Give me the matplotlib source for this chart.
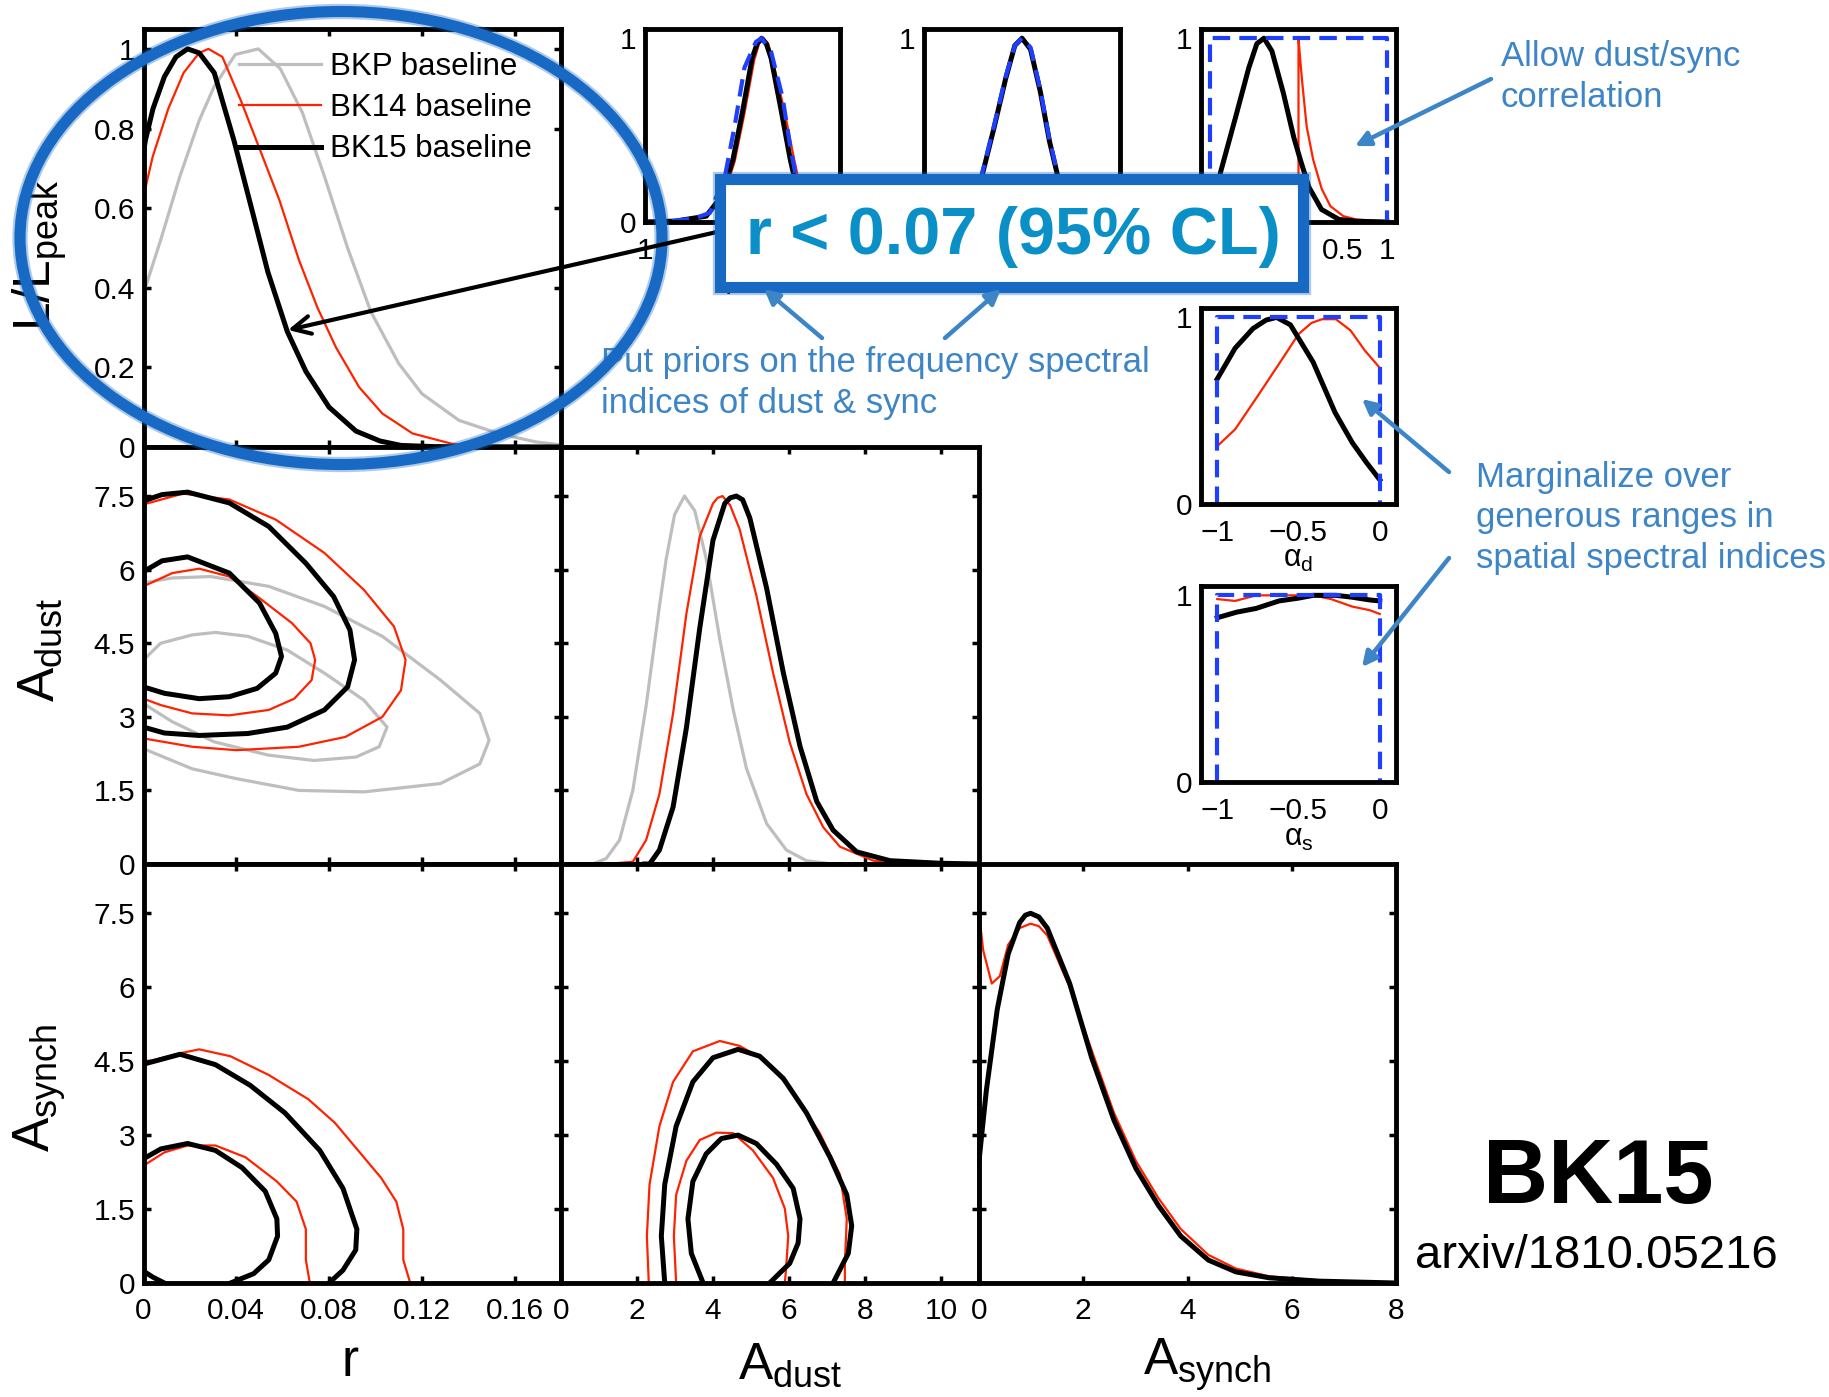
import matplotlib
matplotlib.use('Agg')
import matplotlib.pyplot as plt
from matplotlib.patches import Ellipse, Rectangle

# ---- 1D posteriors ----
r_bkp_x = [0, 0.0074, 0.0157, 0.024, 0.0305, 0.0396, 0.0495, 0.059, 0.0685, 0.078, 0.088, 0.098, 0.11, 0.12, 0.136, 0.153, 0.169, 0.18]
r_bkp_y = [0.386, 0.52, 0.68, 0.82, 0.906, 0.986, 1.0, 0.95, 0.84, 0.68, 0.50, 0.34, 0.21, 0.134, 0.067, 0.034, 0.013, 0.005]
r_bk14_x = [0, 0.004, 0.0107, 0.0173, 0.024, 0.028, 0.034, 0.042, 0.050, 0.0586, 0.067, 0.075, 0.083, 0.093, 0.103, 0.116, 0.133, 0.145, 0.18]
r_bk14_y = [0.63, 0.73, 0.85, 0.94, 0.99, 1.0, 0.98, 0.87, 0.75, 0.62, 0.47, 0.35, 0.25, 0.15, 0.084, 0.034, 0.008, 0.002, 0.0]
r_bk15_x = [0, 0.0008, 0.0041, 0.009, 0.014, 0.019, 0.024, 0.0305, 0.039, 0.047, 0.0536, 0.062, 0.070, 0.080, 0.0916, 0.102, 0.111, 0.125, 0.18]
r_bk15_y = [0.74, 0.77, 0.85, 0.93, 0.98, 1.0, 0.99, 0.94, 0.77, 0.59, 0.44, 0.29, 0.19, 0.10, 0.04, 0.015, 0.004, 0.001, 0.0]

ad_bkp_x = [0.0, 0.835, 1.19, 1.54, 1.89, 2.24, 2.59, 2.77, 2.99, 3.25, 3.52, 3.82, 4.18, 4.53, 4.88, 5.41, 5.93, 6.46, 6.99]
ad_bkp_y = [0, 0, 0.015, 0.065, 0.2, 0.43, 0.70, 0.83, 0.95, 1.0, 0.96, 0.83, 0.61, 0.42, 0.26, 0.11, 0.038, 0.009, 0.002]
ad_bk14_x = [1.2, 1.89, 2.24, 2.59, 2.95, 3.30, 3.65, 4.0, 4.12, 4.25, 4.45, 4.70, 5.14, 5.58, 6.02, 6.46, 6.90, 7.34, 8.22, 9.5]
ad_bk14_y = [0, 0.006, 0.065, 0.19, 0.41, 0.68, 0.89, 0.98, 0.995, 1.0, 0.975, 0.91, 0.73, 0.52, 0.33, 0.19, 0.10, 0.047, 0.009, 0.001]
ad_bk15_x = [2.2, 2.33, 2.59, 2.95, 3.30, 3.65, 4.0, 4.31, 4.45, 4.615, 4.78, 4.97, 5.41, 5.85, 6.29, 6.73, 7.16, 7.78, 8.66, 9.98, 11]
ad_bk15_y = [0, 0.0, 0.038, 0.155, 0.37, 0.64, 0.88, 0.98, 0.995, 1.0, 0.99, 0.94, 0.75, 0.52, 0.32, 0.17, 0.092, 0.033, 0.009, 0.002, 0.0]

as_bk14_x = [0, 0.08, 0.245, 0.40, 0.56, 0.78, 0.99, 1.15, 1.31, 1.74, 2.16, 2.59, 3.01, 3.44, 3.87, 4.40, 4.93, 5.57, 6.53, 8.0]
as_bk14_y = [1.0, 0.9, 0.81, 0.83, 0.915, 0.96, 0.972, 0.965, 0.94, 0.80, 0.63, 0.46, 0.33, 0.23, 0.146, 0.076, 0.039, 0.018, 0.007, 0.0]
as_bk15_x = [0, 0.14, 0.35, 0.56, 0.78, 0.89, 0.99, 1.15, 1.31, 1.74, 2.16, 2.59, 3.01, 3.44, 3.87, 4.40, 4.93, 5.57, 6.53, 8.0]
as_bk15_y = [0.33, 0.52, 0.74, 0.89, 0.975, 0.995, 1.0, 0.99, 0.96, 0.81, 0.61, 0.44, 0.31, 0.21, 0.127, 0.062, 0.030, 0.014, 0.005, 0.0]

# ---- 2D contours (68% / 95%) ----
rd_bkp68_x = [0, 0.0074, 0.021, 0.031, 0.045, 0.062, 0.078, 0.095, 0.105, 0.1016, 0.0916, 0.0735, 0.0537, 0.0305, 0.0124, 0]
rd_bkp68_y = [4.16, 4.5, 4.67, 4.72, 4.64, 4.36, 3.89, 3.34, 2.79, 2.39, 2.18, 2.11, 2.22, 2.49, 2.90, 3.27]
rd_bkp95_x = [0, 0.0124, 0.029, 0.054, 0.078, 0.103, 0.128, 0.145, 0.149, 0.145, 0.128, 0.095, 0.067, 0.040, 0.021, 0]
rd_bkp95_y = [5.73, 5.83, 5.86, 5.66, 5.25, 4.64, 3.75, 3.07, 2.52, 2.04, 1.64, 1.47, 1.50, 1.74, 1.94, 2.35]
rd_bk14_68_x = [0, 0.0124, 0.024, 0.037, 0.050, 0.064, 0.072, 0.074, 0.0725, 0.065, 0.054, 0.037, 0.021, 0.0074, 0]
rd_bk14_68_y = [5.66, 5.93, 6.02, 5.86, 5.42, 4.91, 4.50, 4.16, 3.75, 3.37, 3.14, 3.03, 3.07, 3.24, 3.37]
rd_bk14_95_x = [0, 0.017, 0.037, 0.057, 0.078, 0.095, 0.108, 0.113, 0.111, 0.103, 0.087, 0.067, 0.040, 0.021, 0]
rd_bk14_95_y = [7.33, 7.55, 7.43, 7.02, 6.34, 5.59, 4.84, 4.16, 3.54, 3.0, 2.59, 2.39, 2.32, 2.39, 2.56]
rd_bk15_68_x = [0, 0.008, 0.019, 0.037, 0.050, 0.057, 0.0595, 0.057, 0.049, 0.037, 0.024, 0.009, 0]
rd_bk15_68_y = [5.96, 6.18, 6.26, 5.93, 5.32, 4.70, 4.23, 3.89, 3.58, 3.41, 3.37, 3.48, 3.61]
rd_bk15_95_x = [0, 0.008, 0.019, 0.037, 0.054, 0.070, 0.082, 0.089, 0.091, 0.088, 0.078, 0.062, 0.045, 0.024, 0.009, 0]
rd_bk15_95_y = [7.40, 7.53, 7.58, 7.36, 6.88, 6.13, 5.45, 4.77, 4.16, 3.61, 3.14, 2.79, 2.66, 2.62, 2.67, 2.79]

rs_bk14_68_x = [0, 0.009, 0.019, 0.031, 0.044, 0.0575, 0.066, 0.070, 0.070, 0.0717]
rs_bk14_68_y = [2.38, 2.65, 2.79, 2.79, 2.55, 2.06, 1.65, 1.09, 0.47, 0]
rs_bk14_95_x = [0, 0.0158, 0.024, 0.0375, 0.054, 0.071, 0.0825, 0.0925, 0.1025, 0.109, 0.112, 0.112, 0.115]
rs_bk14_95_y = [4.47, 4.66, 4.74, 4.60, 4.22, 3.73, 3.25, 2.69, 2.13, 1.65, 1.09, 0.47, 0]
rs_bk15_68_x = [0, 0.0075, 0.019, 0.031, 0.0425, 0.0525, 0.0575, 0.0578, 0.054, 0.0475, 0.0375]
rs_bk15_68_y = [2.52, 2.72, 2.83, 2.69, 2.34, 1.86, 1.30, 0.95, 0.47, 0.19, 0]
rs_bk15_68c_x = [0, 0.004, 0.009]
rs_bk15_68c_y = [0.24, 0.12, 0]
rs_bk15_95_x = [0, 0.0158, 0.031, 0.046, 0.061, 0.076, 0.086, 0.092, 0.0915, 0.086, 0.080]
rs_bk15_95_y = [4.44, 4.64, 4.43, 4.01, 3.45, 2.69, 1.92, 1.09, 0.67, 0.26, 0]

ds_bk14_68_x = [3.03, 2.97, 3.03, 3.30, 3.65, 4.09, 4.53, 5.05, 5.58, 5.89, 5.98, 5.92, 5.89]
ds_bk14_68_y = [0, 0.95, 1.79, 2.48, 2.90, 3.05, 3.04, 2.69, 2.13, 1.51, 0.95, 0.26, 0]
ds_bk14_95_x = [2.31, 2.26, 2.33, 2.59, 2.95, 3.47, 4.18, 4.70, 5.41, 6.11, 6.81, 7.34, 7.52, 7.47, 7.47]
ds_bk14_95_y = [0, 0.95, 2.0, 3.18, 4.08, 4.70, 4.91, 4.81, 4.50, 3.87, 3.04, 2.20, 1.30, 0.40, 0]
ds_bk15_68_x = [3.74, 3.43, 3.34, 3.47, 3.82, 4.22, 4.66, 5.14, 5.67, 6.11, 6.29, 6.24, 6.02, 5.49]
ds_bk15_68_y = [0, 0.60, 1.30, 2.06, 2.62, 2.93, 3.0, 2.83, 2.41, 1.92, 1.30, 0.81, 0.40, 0]
ds_bk15_95_x = [2.73, 2.64, 2.73, 3.03, 3.47, 4.0, 4.66, 5.23, 5.85, 6.46, 7.08, 7.52, 7.65, 7.56, 7.16]
ds_bk15_95_y = [0, 0.95, 2.0, 3.18, 4.08, 4.57, 4.74, 4.60, 4.15, 3.45, 2.55, 1.79, 1.16, 0.60, 0]

# ---- small panels ----
bd_bk15_x = [1.0, 1.157, 1.314, 1.392, 1.451, 1.5, 1.549, 1.575, 1.598, 1.622, 1.647, 1.696, 1.745, 1.784, 1.833, 1.90, 2.0]
bd_bk15_y = [0, 0.005, 0.032, 0.14, 0.34, 0.60, 0.89, 0.97, 1.0, 0.97, 0.89, 0.62, 0.34, 0.157, 0.05, 0.01, 0]
bd_bk14_x = [1.0, 1.157, 1.314, 1.40, 1.46, 1.51, 1.56, 1.585, 1.608, 1.632, 1.657, 1.716, 1.765, 1.80, 1.85, 1.91, 2.0]
bd_bk14_y = [0, 0.004, 0.03, 0.13, 0.33, 0.59, 0.88, 0.97, 1.0, 0.97, 0.87, 0.60, 0.34, 0.17, 0.06, 0.012, 0]
bd_prior_x = [1.0, 1.137, 1.255, 1.333, 1.412, 1.461, 1.51, 1.569, 1.598, 1.647, 1.706, 1.745, 1.784, 1.84, 1.9, 2.0]
bd_prior_y = [0, 0.005, 0.02, 0.05, 0.26, 0.53, 0.84, 0.98, 1.0, 0.925, 0.675, 0.41, 0.19, 0.06, 0.015, 0.001]

bs_x = [-4.6, -4.0, -3.706, -3.53, -3.35, -3.21, -3.1, -2.97, -2.82, -2.68, -2.56, -2.38, -2.18, -1.6]
bs_bk15_y = [0, 0.014, 0.26, 0.51, 0.78, 0.96, 1.0, 0.94, 0.71, 0.44, 0.26, 0.086, 0.014, 0]
bs_bk14_y = [0, 0.013, 0.25, 0.50, 0.78, 0.96, 1.0, 0.94, 0.72, 0.45, 0.26, 0.085, 0.014, 0]
bs_prior_y = [0, 0.016, 0.27, 0.52, 0.79, 0.96, 1.0, 0.95, 0.72, 0.45, 0.27, 0.09, 0.016, 0]

eps_bk15_x = [-1.0, -0.95, -0.88, -0.71, -0.56, -0.47, -0.39, -0.30, -0.17, -0.053, 0.02, 0.117, 0.26, 0.456, 0.65, 1.0]
eps_bk15_y = [0.01, 0.05, 0.27, 0.57, 0.84, 0.97, 1.0, 0.93, 0.70, 0.46, 0.34, 0.19, 0.068, 0.014, 0.004, 0]
eps_bk14_x = [0, 0, 0.02, 0.044, 0.092, 0.165, 0.262, 0.36, 0.505, 0.65, 0.94]
eps_bk14_y = [0, 1.0, 0.88, 0.75, 0.52, 0.34, 0.18, 0.086, 0.032, 0.014, 0.004]
eps_prior_x = [-1, -1, 1, 1]
eps_prior_y = [0, 1, 1, 0]

alpd_bk15_x = [-1.0, -0.89, -0.78, -0.70, -0.635, -0.55, -0.41, -0.275, -0.17, -0.08, 0.0]
alpd_bk15_y = [0.67, 0.835, 0.94, 0.985, 1.0, 0.96, 0.76, 0.49, 0.33, 0.22, 0.13]
alpd_bk14_x = [-1.0, -0.89, -0.75, -0.59, -0.5, -0.42, -0.355, -0.27, -0.18, -0.09, 0.0]
alpd_bk14_y = [0.31, 0.40, 0.58, 0.79, 0.91, 0.97, 0.99, 0.99, 0.93, 0.82, 0.73]
alps_bk15_x = [-1.0, -0.88, -0.76, -0.62, -0.5, -0.41, -0.27, -0.17, -0.06, 0.0]
alps_bk15_y = [0.88, 0.91, 0.93, 0.97, 0.985, 1.0, 1.0, 0.99, 0.975, 0.97]
alps_bk14_x = [-1.0, -0.89, -0.76, -0.62, -0.41, -0.30, -0.17, -0.06, 0.0]
alps_bk14_y = [0.98, 0.97, 1.0, 1.0, 1.0, 0.98, 0.94, 0.92, 0.90]
alp_prior_x = [-1, -1, 0, 0]
alp_prior_y = [0, 1, 1, 0]

legend_labels = ['BKP baseline', 'BK14 baseline', 'BK15 baseline']

plt.rcParams['font.family'] = ['Liberation Sans', 'DejaVu Sans']
plt.rcParams['mathtext.fontset'] = 'custom'
plt.rcParams['mathtext.rm'] = 'Liberation Sans'
plt.rcParams['mathtext.it'] = 'Liberation Sans:italic'
plt.rcParams['mathtext.bf'] = 'Liberation Sans:bold'

GRAY, RED, BLK, BLUE = '#bebebe', '#ff2200', 'black', '#1f3fff'
LW15, LW14, LWP = 3.6, 1.6, 2.3
ANN = '#3d85c6'
W, H = 1829, 1397
fig = plt.figure(figsize=(W / 100, H / 100), dpi=100)


def box_ax(x0, y0, x1, y1):
    return fig.add_axes([x0 / W, 1 - y1 / H, (x1 - x0) / W, (y1 - y0) / H])


def style(ax, small=False):
    for s in ax.spines.values():
        s.set_linewidth(3.5)
    if small:
        ax.tick_params(length=0, labelsize=21.5, pad=6)
        ax.tick_params(axis='x', pad=11)
    else:
        ax.tick_params(direction='in', length=5, width=2.5, top=True, right=True,
                       labelsize=21.5, pad=6)
        ax.tick_params(axis='x', pad=10)


xs = [143.5, 561, 979, 1396]
ys = [29, 447, 864, 1283]
r_ticks = [0, 0.04, 0.08, 0.12, 0.16]
r_lbl = ['0', '0.04', '0.08', '0.12', '0.16']
a_ticks = [0, 1.5, 3, 4.5, 6, 7.5]
a_lbl = ['0', '1.5', '3', '4.5', '6', '7.5']
n_ticks = [0, 0.2, 0.4, 0.6, 0.8, 1.0]

# r 1D
ax = box_ax(xs[0], ys[0], xs[1], ys[1])
ax.plot(r_bkp_x, r_bkp_y, color=GRAY, lw=LWP, label=legend_labels[0])
ax.plot(r_bk14_x, r_bk14_y, color=RED, lw=LW14, label=legend_labels[1])
ax.plot(r_bk15_x, r_bk15_y, color=BLK, lw=LW15, label=legend_labels[2])
ax.set_xlim(0, 0.18)
ax.set_ylim(0, 1.05)
ax.set_xticks(r_ticks)
ax.set_xticklabels([])
ax.set_yticks(n_ticks)
ax.set_yticklabels(['0', '0.2', '0.4', '0.6', '0.8', '1'])
style(ax)
ax.legend(loc='upper left', bbox_to_anchor=(0.229, 0.945), frameon=False, fontsize=22.5,
          handlelength=2.62, handletextpad=0.3, labelspacing=0.36, borderpad=0, borderaxespad=0)

# r - Adust
ax = box_ax(xs[0], ys[1], xs[1], ys[2])
ax.plot(rd_bkp68_x, rd_bkp68_y, color=GRAY, lw=LWP)
ax.plot(rd_bkp95_x, rd_bkp95_y, color=GRAY, lw=LWP)
ax.plot(rd_bk14_68_x, rd_bk14_68_y, color=RED, lw=LW14)
ax.plot(rd_bk14_95_x, rd_bk14_95_y, color=RED, lw=LW14)
ax.plot(rd_bk15_68_x, rd_bk15_68_y, color=BLK, lw=LW15)
ax.plot(rd_bk15_95_x, rd_bk15_95_y, color=BLK, lw=LW15)
ax.set_xlim(0, 0.18)
ax.set_ylim(0, 8.5)
ax.set_xticks(r_ticks)
ax.set_xticklabels([])
ax.set_yticks(a_ticks)
ax.set_yticklabels(a_lbl)
style(ax)

# Adust 1D
ax = box_ax(xs[1], ys[1], xs[2], ys[2])
ax.plot(ad_bkp_x, ad_bkp_y, color=GRAY, lw=LWP)
ax.plot(ad_bk14_x, ad_bk14_y, color=RED, lw=LW14)
ax.plot(ad_bk15_x, ad_bk15_y, color=BLK, lw=LW15)
ax.set_xlim(0, 11)
ax.set_ylim(0, 8.5 / 7.5)
ax.set_xticks([0, 2, 4, 6, 8, 10])
ax.set_xticklabels([])
ax.set_yticks(n_ticks)
ax.set_yticklabels([])
style(ax)

# r - Async
ax = box_ax(xs[0], ys[2], xs[1], ys[3])
ax.plot(rs_bk14_68_x, rs_bk14_68_y, color=RED, lw=LW14)
ax.plot(rs_bk14_95_x, rs_bk14_95_y, color=RED, lw=LW14)
ax.plot(rs_bk15_68_x, rs_bk15_68_y, color=BLK, lw=LW15)
ax.plot(rs_bk15_68c_x, rs_bk15_68c_y, color=BLK, lw=LW15)
ax.plot(rs_bk15_95_x, rs_bk15_95_y, color=BLK, lw=LW15)
ax.set_xlim(0, 0.18)
ax.set_ylim(0, 8.5)
ax.set_xticks(r_ticks)
ax.set_xticklabels(r_lbl)
ax.set_yticks(a_ticks)
ax.set_yticklabels(a_lbl)
style(ax)

# Adust - Async
ax = box_ax(xs[1], ys[2], xs[2], ys[3])
ax.plot(ds_bk14_68_x, ds_bk14_68_y, color=RED, lw=LW14)
ax.plot(ds_bk14_95_x, ds_bk14_95_y, color=RED, lw=LW14)
ax.plot(ds_bk15_68_x, ds_bk15_68_y, color=BLK, lw=LW15)
ax.plot(ds_bk15_95_x, ds_bk15_95_y, color=BLK, lw=LW15)
ax.set_xlim(0, 11)
ax.set_ylim(0, 8.5)
ax.set_xticks([0, 2, 4, 6, 8, 10])
ax.set_xticklabels(['0', '2', '4', '6', '8', '10'])
ax.set_yticks(a_ticks)
ax.set_yticklabels([])
style(ax)

# Async 1D
ax = box_ax(xs[2], ys[2], xs[3], ys[3])
ax.plot(as_bk14_x, as_bk14_y, color=RED, lw=LW14)
ax.plot(as_bk15_x, as_bk15_y, color=BLK, lw=LW15)
ax.set_xlim(0, 8)
ax.set_ylim(0, 8.5 / 7.5)
ax.set_xticks([0, 2, 4, 6, 8])
ax.set_xticklabels(['0', '2', '4', '6', '8'])
ax.set_yticks(n_ticks)
ax.set_yticklabels([])
style(ax)


# small nuisance-parameter panels
def small(x0, y0, x1, y1, xlim, ticks, labels, xlabel):
    a = box_ax(x0, y0, x1, y1)
    a.set_xlim(*xlim)
    a.set_ylim(0, 1.05)
    a.set_xticks(ticks)
    a.set_xticklabels(labels)
    a.set_yticks([0, 1])
    a.set_yticklabels(['0', '1'])
    a.set_xlabel(xlabel, fontsize=22, labelpad=-2)
    style(a, small=True)
    return a


dash = (4.2, 2.2)
# tick labels that sit fully under the "r < 0.07" box are left blank
ax = small(645, 29, 840, 222, (1, 2), [1, 1.5, 2], ['1', '', ''], r'$\beta_{\mathrm{d}}$')
ax.plot(bd_bk14_x, bd_bk14_y, color=RED, lw=LW14)
ax.plot(bd_bk15_x, bd_bk15_y, color=BLK, lw=LW15)
ax.plot(bd_prior_x, bd_prior_y, color=BLUE, lw=3, dashes=dash)

ax = small(924, 29, 1120, 222, (-4.6, -1.6), [-4, -3, -2], ['', '', ''], r'$\beta_{\mathrm{s}}$')
ax.plot(bs_x, bs_bk14_y, color=RED, lw=LW14)
ax.plot(bs_x, bs_bk15_y, color=BLK, lw=LW15)
ax.plot(bs_x, bs_prior_y, color=BLUE, lw=3, dashes=dash)

ax = small(1201, 29, 1396, 222, (-1.1, 1.1), [-1, -0.5, 0, 0.5, 1],
           ['', '', '0', '0.5', '1'], r'$\epsilon$')
ax.plot(eps_bk14_x, eps_bk14_y, color=RED, lw=LW14)
ax.plot(eps_bk15_x, eps_bk15_y, color=BLK, lw=LW15)
ax.plot(eps_prior_x, eps_prior_y, color=BLUE, lw=3, dashes=dash)

ax = small(1201, 308, 1396, 504, (-1.1, 0.1), [-1, -0.5, 0], ['\u22121', '\u22120.5', '0'], 'α$_{\\mathrm{d}}$')
ax.plot(alpd_bk14_x, alpd_bk14_y, color=RED, lw=LW14)
ax.plot(alpd_bk15_x, alpd_bk15_y, color=BLK, lw=LW15)
ax.plot(alp_prior_x, alp_prior_y, color=BLUE, lw=3, dashes=dash)

ax = small(1201, 586, 1396, 782, (-1.1, 0.1), [-1, -0.5, 0], ['\u22121', '\u22120.5', '0'], 'α$_{\\mathrm{s}}$')
ax.plot(alps_bk14_x, alps_bk14_y, color=RED, lw=LW14)
ax.plot(alps_bk15_x, alps_bk15_y, color=BLK, lw=LW15)
ax.plot(alp_prior_x, alp_prior_y, color=BLUE, lw=3, dashes=dash)

# ---- overlay: labels and slide annotations, in pixel coordinates ----
ov = fig.add_axes([0, 0, 1, 1], zorder=10)
ov.set_xlim(0, W)
ov.set_ylim(H, 0)
ov.axis('off')
ov.patch.set_alpha(0)

lab = dict(fontsize=37, ha='center', va='center')
ov.text(350, 1362, 'r', **lab)
ov.text(790, 1365, r'A$_{\mathrm{dust}}$', **lab)
ov.text(1207, 1365, r'A$_{\mathrm{synch}}$', **lab)
ov.text(40, 650, r'A$_{\mathrm{dust}}$', rotation=90, **lab)
ov.text(40, 1088, r'A$_{\mathrm{synch}}$', rotation=90, **lab)
ov.text(40, 255, r'L/L$_{\mathrm{peak}}$', rotation=90, **lab)

ring = '#1769c4'
ov.add_patch(Ellipse((341, 238), 642, 453, fill=False, ec=ring, lw=11, alpha=0.35, zorder=5))
ov.add_patch(Ellipse((341, 238), 642, 453, fill=False, ec=ring, lw=8, zorder=6))
ov.annotate('', xy=(288, 330), xytext=(730, 229),
            arrowprops=dict(arrowstyle='->', color='k', lw=3, mutation_scale=32,
                            shrinkA=0, shrinkB=0), zorder=7)
ov.add_patch(Rectangle((720, 179), 583, 108, fc='white', ec=ring, lw=11, alpha=0.35, zorder=8))
ov.add_patch(Rectangle((720, 179), 583, 108, fc='white', ec=ring, lw=8, zorder=9))
ov.text(1013, 237, 'r < 0.07 (95% CL)', fontsize=48, fontweight='bold', color='#0b8fc7',
        ha='center', va='center', zorder=10)

ann = dict(fontsize=25, color=ANN, ha='left', va='center', linespacing=1.3)
ov.text(601, 383, 'Put priors on the frequency spectral\nindices of dust & sync', **ann)
ov.text(1501, 77, 'Allow dust/sync\ncorrelation', **ann)
ov.text(1476, 518, 'Marginalize over\ngenerous ranges in\nspatial spectral indices', **ann)

arrows = [((822, 338), (764, 289)), ((945, 338), (1001, 289)), ((1491, 79), (1355, 146)),
          ((1449, 472), (1362, 399)), ((1449, 558), (1362, 667))]
for tail, head in arrows:
    ov.annotate('', xy=head, xytext=tail,
                arrowprops=dict(arrowstyle='-|>', color=ANN, lw=3.2, mutation_scale=22,
                                shrinkA=0, shrinkB=0), zorder=11)

ov.text(1598, 1180, 'BK15', fontsize=65, fontweight='bold', ha='center', va='center')
ov.text(1596, 1256, 'arxiv/1810.05216', fontsize=34, ha='center', va='center')

fig.savefig('out.png', dpi=100)
